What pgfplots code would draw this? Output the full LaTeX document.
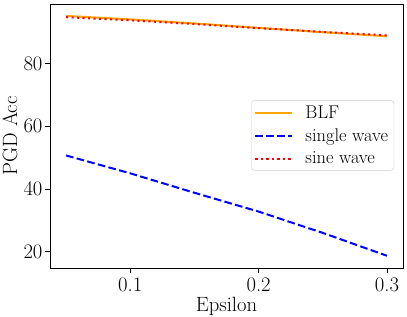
\documentclass[border=0pt]{standalone}
\usepackage{pgfplots}
\pgfplotsset{compat=1.18}
\begin{document}
\begin{tikzpicture}
\path[use as bounding box] (-50bp,-49bp) rectangle (357bp,268bp);
\begin{axis}[
  at={(0,0)}, anchor=south west,
  scale only axis, width=353bp, height=264bp,
  xmin=0.0375, xmax=0.3125, ymin=14.8, ymax=99,
  xtick={0.1,0.2,0.3}, ytick={20,40,60,80},
  xticklabels={0.1,0.2,0.3},
  tick align=outside, major tick length=5bp,
  tick style={line width=0.8pt, black},
  axis line style={line width=0.8pt},
  xtick pos=bottom, ytick pos=left,
  /pgf/number format/assume math mode=true,
  ticklabel style={font=\fontsize{20.74}{24}\selectfont},
  xticklabel style={yshift=-1bp},
  yticklabel style={xshift=1bp},
  xlabel={Epsilon}, ylabel={PGD Acc},
  label style={font=\fontsize{20.74}{24}\selectfont},
  xlabel style={at={(axis description cs:0.5,-0.163)}, anchor=base},
  ylabel style={at={(axis description cs:-0.113,0.5)}, anchor=center},
  legend style={at={(axis description cs:0.975,0.502)}, anchor=east,
    draw=black!20, rounded corners=3bp, fill=white, fill opacity=0.8, text opacity=1,
    font=\fontsize{18.5}{22}\selectfont, row sep=5bp, inner xsep=3bp, inner ysep=3bp,
    nodes={inner xsep=3bp}},
  legend cell align=left,
  legend image code/.code={\draw[#1] (0bp,0bp) -- (37bp,0bp); \path (46bp,0bp);},
]
\addplot[color={rgb,255:red,255;green,165;blue,0}, line width=2bp] coordinates {
(0.05,95.2) (0.1,94.1) (0.15,92.8) (0.2,91.4) (0.25,90.0) (0.3,88.7)};
\addlegendentry{BLF}
\addplot[color=blue, line width=2bp, dash pattern=on 7.7bp off 3.3bp] coordinates {
(0.05,50.7) (0.1,45.0) (0.15,38.8) (0.2,32.8) (0.25,26.0) (0.3,18.7)};
\addlegendentry{single wave}
\addplot[color=red, line width=2bp, dash pattern=on 2.1bp off 3.4bp] coordinates {
(0.05,94.8) (0.1,93.8) (0.15,92.6) (0.2,91.3) (0.25,90.1) (0.3,89.0)};
\addlegendentry{sine wave}
\end{axis}
\end{tikzpicture}
\end{document}
